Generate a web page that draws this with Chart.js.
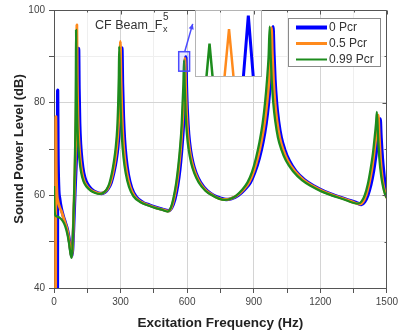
<!DOCTYPE html>
<html><head><meta charset="utf-8">
<script src="https://cdn.jsdelivr.net/npm/chart.js@4.4.0/dist/chart.umd.min.js"></script>
<style>
html,body{margin:0;padding:0;background:#fff;}
#wrap{position:relative;width:401px;height:336px;overflow:hidden;}
#main{position:absolute;left:0;top:0;}
#insetBox{position:absolute;left:195px;top:10px;width:67px;height:67px;border:1px solid #b4b4b4;box-sizing:border-box;}
#inset{display:block;}
</style></head><body>
<div id="wrap"><canvas id="main" width="401" height="336"></canvas>
<div id="insetBox"><canvas id="inset" width="65" height="65"></canvas></div></div>
<script>
const FONT = "'Liberation Sans', Arial, Helvetica, sans-serif";
const xTickLabels = [0, 300, 600, 900, 1200, 1500];
const yTickLabels = [40, 60, 80, 100];
const seriesNames = ['0 Pcr', '0.5 Pcr', '0.99 Pcr'];

// [frequency Hz, sound power level dB]
const pcr0 = [[15.5,38],[16.5,82.7],[18,70],[21,62],[26,59.2],[33,57.2],[42,55.5],[52,54],[62,52.3],[70,50],[76,47.8],[80,46.9],[84,48.3],[88,52.5],[92,57.5],[96,62.5],[100,67],[104,72],[107,77],[109,83],[111,91.7],[113,83],[116,75.5],[120,71],[126,67.5],[134,64.8],[145,63],[160,61.8],[180,60.9],[200,60.5],[215,60.4],[230,60.7],[245,61.5],[258,62.8],[270,65],[280,67.5],[288,70.5],[295,75],[300,80],[303,85],[306,91.8],[309,84],[313,77],[318,72],[325,68],[335,64.5],[350,61.6],[370,59.7],[400,58.5],[430,57.9],[460,57.4],[490,57],[515,56.7],[530,57.3],[545,59.2],[557,62],[567,65.5],[575,69.5],[582,74],[587,78.5],[591,83.5],[594,89.9],[597,83.5],[601,78],[607,73.2],[615,69.8],[626,67],[640,64.8],[660,62.8],[690,61],[720,60],[750,59.4],[775,59.1],[800,59.3],[830,60],[860,61.3],[885,62.8],[905,65],[925,68],[942,71.5],[956,75.5],[967,80],[976,85],[982,90],[987,96.4],[991,91],[996,85],[1003,80],[1012,76],[1024,72.5],[1040,69.8],[1060,67.5],[1090,65.2],[1130,63.3],[1175,61.9],[1220,60.8],[1270,59.9],[1320,59.1],[1360,58.5],[1385,58],[1400,58.6],[1414,60],[1428,62.3],[1440,65.2],[1450,68.5],[1458,71.5],[1464,74],[1470,76.5],[1474,72.5],[1480,68],[1488,64],[1495,61],[1500,59.5]];

const pcr05 = [[7.5,38],[8.5,77],[10,67],[13,61],[18,58.8],[25,57.5],[33,56.6],[42,55.3],[52,53.8],[62,52],[70,49.6],[76,47.5],[80,46.8],[84,49],[88,55],[92,61],[95,66],[98,72],[100,78],[102,86],[103,96.8],[105,85],[108,77],[112,72],[118,68],[126,65],[137,63],[150,61.9],[170,61],[190,60.6],[210,60.4],[225,60.6],[240,61.3],[253,62.6],[265,64.8],[275,67.5],[283,70.5],[290,75],[294,80],[297,86],[299,93.2],[302,85],[306,78],[311,72.5],[318,68.3],[328,64.8],[343,61.8],[363,59.8],[395,58.5],[430,57.8],[460,57.3],[490,56.9],[515,56.6],[530,57.5],[543,59.8],[554,62.8],[563,66.3],[571,70.3],[578,75],[583,79.5],[587,84],[590,89.6],[593,83.5],[597,78],[603,73.2],[611,69.8],[622,67],[636,64.8],[656,62.8],[686,61],[716,60],[746,59.3],[772,59.1],[797,59.3],[825,60],[855,61.3],[880,62.9],[900,65.2],[919,68.3],[936,72],[950,76],[961,80.5],[970,85.5],[976,90.5],[980,96.2],[984,90.5],[989,85],[996,80],[1005,76],[1017,72.5],[1033,69.8],[1053,67.5],[1085,65.2],[1125,63.3],[1170,61.9],[1215,60.8],[1265,59.9],[1315,59.1],[1355,58.4],[1378,58.1],[1392,58.6],[1406,60],[1420,62.5],[1432,65.5],[1442,69],[1450,72.3],[1456,75],[1461,77.3],[1466,72.5],[1472,67.5],[1480,63.5],[1490,60.8],[1500,59.4]];

const pcr099 = [[0,62],[1.5,58],[4,56],[10,55.5],[20,55.3],[30,55],[40,54.4],[50,53.4],[60,51.7],[68,49.6],[74,47.5],[79,46.5],[83,48.5],[87,54],[90,59],[93,65],[95,70],[97,77],[98.5,86],[99.5,95.7],[101,86],[104,77.5],[108,72],[114,68],[122,65],[133,63],[146,61.9],[166,61],[186,60.5],[206,60.3],[221,60.5],[236,61.2],[249,62.5],[260,64.6],[270,67.3],[278,70.3],[285,74.5],[289,79.5],[292,85.5],[294,92.1],[297,85],[301,78],[306,72.5],[313,68.3],[323,64.8],[338,61.8],[358,59.8],[390,58.5],[425,57.8],[455,57.3],[485,56.9],[512,56.5],[527,57.4],[540,59.8],[551,62.8],[560,66.3],[568,70.3],[575,75],[579,79.5],[583,84],[586,89.2],[589,83.5],[593,78],[599,73.2],[607,69.8],[618,67],[632,64.8],[652,62.8],[682,61],[712,60],[742,59.3],[768,59],[793,59.2],[820,59.9],[848,61.2],[872,62.8],[892,65],[910,68],[926,71.5],[940,75.5],[951,80],[960,85],[967,90],[972,96.4],[976,90.5],[981,85],[988,80],[997,76],[1009,72.5],[1025,69.8],[1045,67.5],[1077,65.2],[1117,63.3],[1162,61.9],[1207,60.8],[1257,59.9],[1307,59.1],[1347,58.4],[1370,58.2],[1386,58.7],[1400,60],[1414,62.4],[1426,65.5],[1437,69],[1445,72.5],[1451,75.5],[1455,78],[1460,73],[1466,68],[1474,64.3],[1483,61.8],[1492,60.2],[1500,59.4]];

// zoomed inset around the ~590 Hz peak
const insetPcr0 = [[591.3,89.0],[592.05,89.93],[592.8,89.0]];
const insetPcr05 = [[588.4,89.0],[589.08,89.72],[589.76,89.0]];
const insetPcr099 = [[585.62,89.0],[586.08,89.5],[586.54,89.0]];

const colors = ['#0000ff', '#ff8a1c', '#1d8c1d'];
const widths = [3.3, 2.8, 2.3];
const legendWidths = [4, 3, 2];
const toXY = a => a.map(p => ({x: p[0], y: p[1]}));

const decor = {
  id: 'decor',
  afterDraw(chart) {
    const {ctx, chartArea: a, scales: {x, y}} = chart;
    ctx.save();
    ctx.strokeStyle = '#555'; ctx.lineWidth = 1;
    const t = Math.round(a.top) + 0.5, r = Math.round(a.right) - 0.5;
    ctx.beginPath(); ctx.moveTo(a.left, t); ctx.lineTo(r, t); ctx.lineTo(r, a.bottom); ctx.stroke();
    x.ticks.forEach(tk => {
      const px = Math.round(x.getPixelForValue(tk.value)) + 0.5;
      const L = xTickLabels.includes(tk.value) ? 4 : 2;
      ctx.beginPath(); ctx.moveTo(px, t); ctx.lineTo(px, t + L); ctx.stroke();
    });
    y.ticks.forEach(tk => {
      const py = Math.round(y.getPixelForValue(tk.value)) + 0.5;
      const L = yTickLabels.includes(tk.value) ? 4 : 2;
      ctx.beginPath(); ctx.moveTo(r, py); ctx.lineTo(r - L, py); ctx.stroke();
    });
    const sx0 = x.getPixelForValue(562), sx1 = x.getPixelForValue(611);
    const sy0 = y.getPixelForValue(91), sy1 = y.getPixelForValue(86.8);
    ctx.fillStyle = 'rgba(90,90,255,0.12)';
    ctx.fillRect(sx0, sy0, sx1 - sx0, sy1 - sy0);
    ctx.strokeStyle = '#4b4bff'; ctx.lineWidth = 1.5;
    ctx.strokeRect(sx0, sy0, sx1 - sx0, sy1 - sy0);
    const ax0 = x.getPixelForValue(589), ay0 = sy0;
    const ax1 = x.getPixelForValue(625), ay1 = y.getPixelForValue(97);
    ctx.beginPath(); ctx.moveTo(ax0, ay0); ctx.lineTo(ax1, ay1); ctx.stroke();
    const ang = Math.atan2(ay1 - ay0, ax1 - ax0);
    ctx.fillStyle = '#4b4bff';
    ctx.beginPath();
    ctx.moveTo(ax1, ay1);
    ctx.lineTo(ax1 - 6 * Math.cos(ang - 0.45), ay1 - 6 * Math.sin(ang - 0.45));
    ctx.lineTo(ax1 - 6 * Math.cos(ang + 0.45), ay1 - 6 * Math.sin(ang + 0.45));
    ctx.closePath(); ctx.fill();
    ctx.fillStyle = '#333'; ctx.textBaseline = 'alphabetic'; ctx.textAlign = 'left';
    ctx.font = '12.5px ' + FONT;
    const lbl = 'CF Beam_F';
    ctx.fillText(lbl, 95, 29);
    const w = ctx.measureText(lbl).width;
    ctx.font = '10px ' + FONT; ctx.fillText('5', 95 + w + 0.5, 20);
    ctx.font = '9px ' + FONT; ctx.fillText('x', 95 + w + 0.5, 31.5);
    ctx.fillStyle = '#fff'; ctx.strokeStyle = '#8a8a8a'; ctx.lineWidth = 1;
    ctx.fillRect(288.5, 18.5, 92, 48); ctx.strokeRect(288.5, 18.5, 92, 48);
    ctx.font = '12px ' + FONT; ctx.textBaseline = 'middle';
    chart.data.datasets.forEach((ds, i) => {
      const ly = 27.5 + i * 16;
      ctx.strokeStyle = ds.borderColor; ctx.lineWidth = legendWidths[i];
      ctx.beginPath(); ctx.moveTo(296, ly); ctx.lineTo(327, ly); ctx.stroke();
      ctx.fillStyle = '#333'; ctx.fillText(ds.label, 329, ly + 0.5);
    });
    ctx.restore();
  }
};

new Chart(document.getElementById('main'), {
  type: 'line',
  data: {
    datasets: [
      {label: seriesNames[0], data: toXY(pcr0), borderColor: colors[0], borderWidth: widths[0], order: 3},
      {label: seriesNames[1], data: toXY(pcr05), borderColor: colors[1], borderWidth: widths[1], order: 2},
      {label: seriesNames[2], data: toXY(pcr099), borderColor: colors[2], borderWidth: widths[2], order: 1}
    ]
  },
  options: {
    responsive: false, animation: false,
    elements: {point: {radius: 0}, line: {cubicInterpolationMode: 'monotone', borderJoinStyle: 'round', fill: false}},
    layout: {padding: {top: 10, right: 11, left: 0, bottom: 0}, autoPadding: false},
    plugins: {legend: {display: false}, tooltip: {enabled: false}},
    scales: {
      x: {
        type: 'linear', min: 0, max: 1500,
        afterFit: s => { s.height = 48; },
        ticks: {stepSize: 150, autoSkip: false, maxRotation: 0, padding: 3, color: '#444',
          font: {size: 10, family: FONT},
          callback: v => xTickLabels.includes(v) ? String(v) : ''},
        grid: {color: c => (c.tick && xTickLabels.includes(c.tick.value)) ? '#d4d4d4' : '#efefef',
          tickColor: '#555', tickLength: 5},
        border: {color: '#555', width: 1},
        title: {display: true, text: 'Excitation Frequency (Hz)', color: '#222',
          font: {size: 13.5, weight: 'bold', family: FONT}, padding: {top: 0, bottom: 5}}
      },
      y: {
        min: 40, max: 100,
        afterFit: s => { s.width = 54; },
        ticks: {stepSize: 10, autoSkip: false, padding: 4, color: '#444',
          font: {size: 10, family: FONT},
          callback: v => yTickLabels.includes(v) ? String(v) : ''},
        grid: {color: c => (c.tick && yTickLabels.includes(c.tick.value)) ? '#d4d4d4' : '#efefef',
          tickColor: '#555', tickLength: 5},
        border: {color: '#555', width: 1},
        title: {display: true, text: 'Sound Power Level (dB)', color: '#222',
          font: {size: 13, weight: 'bold', family: FONT}, padding: {top: 12, bottom: 0}}
      }
    }
  },
  plugins: [decor]
});

new Chart(document.getElementById('inset'), {
  type: 'line',
  data: {
    datasets: [
      {label: seriesNames[0], data: toXY(insetPcr0), borderColor: colors[0], borderWidth: 3, order: 3},
      {label: seriesNames[1], data: toXY(insetPcr05), borderColor: colors[1], borderWidth: 2.5, order: 2},
      {label: seriesNames[2], data: toXY(insetPcr099), borderColor: colors[2], borderWidth: 2.5, order: 1}
    ]
  },
  options: {
    responsive: false, animation: false,
    elements: {point: {radius: 0}, line: {tension: 0}},
    layout: {padding: 0, autoPadding: false},
    plugins: {legend: {display: false}, tooltip: {enabled: false}},
    scales: {
      x: {type: 'linear', min: 584, max: 594, display: false},
      y: {min: 89, max: 90, display: false}
    }
  }
});
</script></body></html>
